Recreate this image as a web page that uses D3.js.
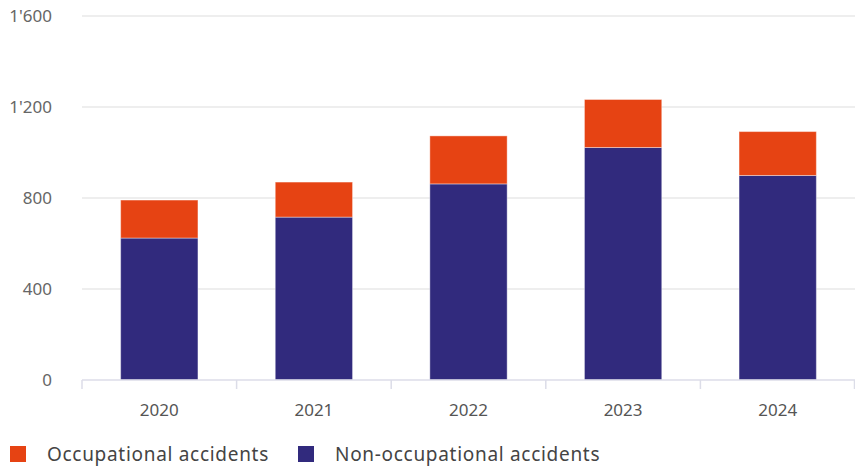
<!DOCTYPE html>
<html>
<head>
<meta charset="utf-8">
<script src="https://cdn.jsdelivr.net/npm/d3@7"></script>
<style>
  body { margin: 0; background: #fff; }
  svg { display: block; font-family: "Noto Sans", "Open Sans", sans-serif; }
</style>
</head>
<body>
<svg width="855" height="467"></svg>
<script>
var years = ["2020", "2021", "2022", "2023", "2024"];
var nonOccupational = [624, 716, 862, 1022, 899];
var occupational = [167, 154, 211, 211, 193];
var yTicks = [0, 400, 800, 1200, 1600];
var seriesNames = ["Occupational accidents", "Non-occupational accidents"];
var colors = ["#E64313", "#312A7D"];

var svg = d3.select("svg");
var mLeft = 82, mRight = 855, mTop = 16, mBottom = 380;

var x = d3.scaleBand().domain(years).range([mLeft, mRight]).paddingInner(0.5).paddingOuter(0.25);
var xOuter = d3.scaleBand().domain(years).range([mLeft, mRight]);
var y = d3.scaleLinear().domain([0, 1600]).range([mBottom, mTop]);

function fmt(v) { return d3.format(",")(v).replace(/,/g, "'"); }

// gridlines
svg.append("g").selectAll("line")
  .data(yTicks.slice(1))
  .enter().append("line")
  .attr("x1", mLeft).attr("x2", mRight)
  .attr("y1", function(d) { return y(d); }).attr("y2", function(d) { return y(d); })
  .attr("stroke", "#e8e8e8").attr("stroke-width", 1.5);

// y labels
svg.append("g").selectAll("text")
  .data(yTicks)
  .enter().append("text")
  .attr("x", 52).attr("y", function(d) { return y(d); })
  .attr("dy", "0.35em")
  .attr("text-anchor", "end")
  .attr("fill", "#666")
  .style("font-size", "17px")
  .text(fmt);

// bars
var rows = years.map(function(yr, i) {
  return { year: yr, non: nonOccupational[i], occ: occupational[i] };
});
var g = svg.append("g");
g.selectAll("rect.non").data(rows).enter().append("rect")
  .attr("x", function(d) { return x(d.year); })
  .attr("width", x.bandwidth())
  .attr("y", function(d) { return y(d.non); })
  .attr("height", function(d) { return y(0) - y(d.non); })
  .attr("fill", colors[1]).attr("stroke", "#ffffff").attr("stroke-opacity", 0.4).attr("stroke-width", 1);
g.selectAll("rect.occ").data(rows).enter().append("rect")
  .attr("x", function(d) { return x(d.year); })
  .attr("width", x.bandwidth())
  .attr("y", function(d) { return y(d.non + d.occ); })
  .attr("height", function(d) { return y(d.non) - y(d.non + d.occ); })
  .attr("fill", colors[0]).attr("stroke", "#ffffff").attr("stroke-opacity", 0.4).attr("stroke-width", 1);

// x axis
var xa = svg.append("g");
xa.append("line").attr("x1", mLeft).attr("x2", mRight).attr("y1", mBottom).attr("y2", mBottom)
  .attr("stroke", "#dcdde8").attr("stroke-width", 1.5);
var edges = years.map(function(d) { return xOuter(d); }).concat([mRight - 0.5]);
xa.selectAll("line.tick").data(edges).enter().append("line")
  .attr("x1", function(d) { return d; }).attr("x2", function(d) { return d; })
  .attr("y1", mBottom).attr("y2", mBottom + 9)
  .attr("stroke", "#dcdde8").attr("stroke-width", 1.5);
xa.selectAll("text").data(years).enter().append("text")
  .attr("x", function(d) { return xOuter(d) + xOuter.bandwidth() / 2; })
  .attr("y", 410).attr("dy", "0.35em")
  .attr("text-anchor", "middle").attr("fill", "#555")
  .style("font-size", "17px")
  .text(function(d) { return d; });

// legend
var legX = [10, 298];
var leg = svg.append("g").selectAll("g").data(seriesNames).enter().append("g")
  .attr("transform", function(d, i) { return "translate(" + legX[i] + ",446)"; });
leg.append("rect").attr("width", 16).attr("height", 16)
  .attr("fill", function(d, i) { return colors[i]; });
leg.append("text").attr("x", 37).attr("y", 8).attr("dy", "0.35em")
  .attr("fill", "#444").style("font-size", "19px").style("letter-spacing", "0.7px")
  .text(function(d) { return d; });
</script>
</body>
</html>
